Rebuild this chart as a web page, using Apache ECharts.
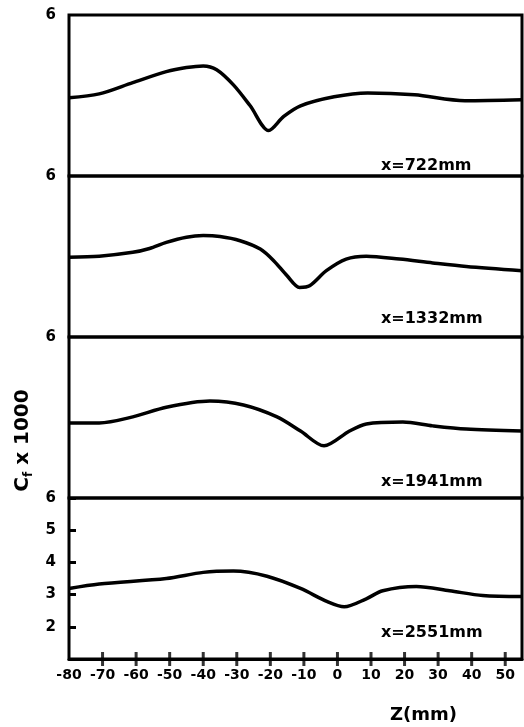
<!DOCTYPE html>
<html>
<head>
<meta charset="utf-8">
<script src="https://cdn.jsdelivr.net/npm/echarts@6/dist/echarts.min.js"></script>
<style>
  html, body { margin: 0; padding: 0; background: #fff; }
  #chart { width: 524px; height: 727px; }
</style>
</head>
<body>
<div id="chart"></div>
<script>
  // station labels, top to bottom
  var stations = ['x=722mm', 'x=1332mm', 'x=1941mm', 'x=2551mm'];
  // Z tick marks along the bottom axis
  var zTicks = [-70, -60, -50, -40, -30, -20, -10, 0, 10, 20, 30, 40, 50];

  // Z (mm) and Cf x 1000 for each station
  var z722 = [-80, -71, -61, -51, -45, -40, -36, -31, -26, -20.5, -16, -11, -1, 9, 23, 38, 55];
  var cf722 = [3.43, 3.55, 3.9, 4.24, 4.37, 4.42, 4.3, 3.83, 3.18, 2.41, 2.85, 3.18, 3.46, 3.58, 3.52, 3.34, 3.37];

  var z1332 = [-80, -71, -61, -56, -51, -45, -40, -35, -29, -23, -19, -15, -11.3, -8.3, -3.3, 2.6, 8.6, 18.5, 28.4, 38.4, 55];
  var cf1332 = [3.48, 3.51, 3.63, 3.75, 3.94, 4.1, 4.15, 4.12, 3.99, 3.73, 3.37, 2.9, 2.54, 2.59, 3.06, 3.42, 3.51, 3.42, 3.3, 3.19, 3.06];

  var z1941 = [-80, -71, -61, -51, -38, -28, -18, -11, -4, 3.6, 8.6, 19.5, 28.4, 38.4, 55];
  var cf1941 = [3.33, 3.33, 3.52, 3.82, 4.01, 3.89, 3.52, 3.08, 2.62, 3.08, 3.3, 3.36, 3.24, 3.14, 3.08];

  var z2551 = [-80, -71, -51, -40, -31, -21, -11, -3, 2, 8.6, 13.5, 23.5, 33.4, 43.3, 55];
  var cf2551 = [3.19, 3.33, 3.5, 3.69, 3.73, 3.57, 3.19, 2.78, 2.62, 2.87, 3.12, 3.25, 3.12, 2.97, 2.94];

  var zs = [z722, z1332, z1941, z2551];
  var cfs = [cf722, cf1332, cf1941, cf2551];

  function pairs(xs, ys) {
    return xs.map(function (x, i) { return [x, ys[i]]; });
  }

  var font = 'DejaVu Sans';
  var tops = [15, 176, 337, 498];
  var labelTops = [138, 130, 132, 122];
  var grids = [], xAxes = [], yAxes = [], series = [], titles = [];

  tops.forEach(function (top, i) {
    var last = i === 3;
    grids.push({
      left: 69, right: 2, top: top, height: 161,
      show: true, borderColor: '#000', borderWidth: 3, backgroundColor: 'transparent'
    });
    xAxes.push({
      type: 'value', gridIndex: i, min: -80, max: 55, interval: 10,
      axisLine: {show: last, onZero: false, lineStyle: {color: '#000', width: 3}},
      splitLine: {show: false},
      axisTick: {show: false},
      axisLabel: {
        show: last, showMaxLabel: false, margin: 9,
        color: '#000', fontFamily: font, fontWeight: 'bold', fontSize: 14
      },
      name: last ? 'Z(mm)' : '',
      nameLocation: 'middle', nameGap: 47,
      nameTextStyle: {color: '#000', fontFamily: font, fontWeight: 'bold', fontSize: 18, padding: [0, 0, 0, 256]}
    });
    yAxes.push({
      type: 'value', gridIndex: i, min: 1, max: 6, interval: 1,
      axisLine: {show: false, onZero: false},
      splitLine: {show: false},
      axisTick: {show: last, inside: true, length: 7, lineStyle: {color: '#000', width: 3}},
      axisLabel: {
        margin: 13, color: '#000', fontFamily: font, fontWeight: 'bold', fontSize: 15,
        formatter: function (v) {
          if (v === 6) return '6';
          return (last && v > 1) ? String(v) : '';
        }
      },
      name: i === 2 ? '{c|C}{s|f}{c| x 1000}' : '',
      nameLocation: 'middle', nameRotate: 90, nameGap: 30,
      nameTextStyle: {
        padding: [0, 0, 0, -46],
        rich: {
          c: {color: '#000', fontFamily: font, fontWeight: 'bold', fontSize: 20},
          s: {color: '#000', fontFamily: font, fontWeight: 'bold', fontSize: 12, verticalAlign: 'bottom', padding: [12, 0, 0, 0]}
        }
      }
    });
    series.push({
      type: 'line', xAxisIndex: i, yAxisIndex: i,
      data: pairs(zs[i], cfs[i]),
      smooth: 0.3, symbol: 'none',
      lineStyle: {color: '#000', width: 3.5}
    });
    titles.push({
      text: stations[i], left: 376, top: top + labelTops[i],
      textStyle: {color: '#000', fontFamily: font, fontWeight: 'bold', fontSize: 16}
    });
  });

  // Z ticks on the bottom axis, placed through the last panel's scales
  series.push({
    type: 'scatter', xAxisIndex: 3, yAxisIndex: 3,
    data: zTicks.map(function (z) { return [z, 1]; }),
    symbol: 'rect', symbolSize: [3, 14],
    itemStyle: {color: '#000'},
    silent: true, z: 3
  });

  var chart = echarts.init(document.getElementById('chart'));
  chart.setOption({
    animation: false,
    title: titles,
    grid: grids,
    xAxis: xAxes,
    yAxis: yAxes,
    series: series
  });
</script>
</body>
</html>
